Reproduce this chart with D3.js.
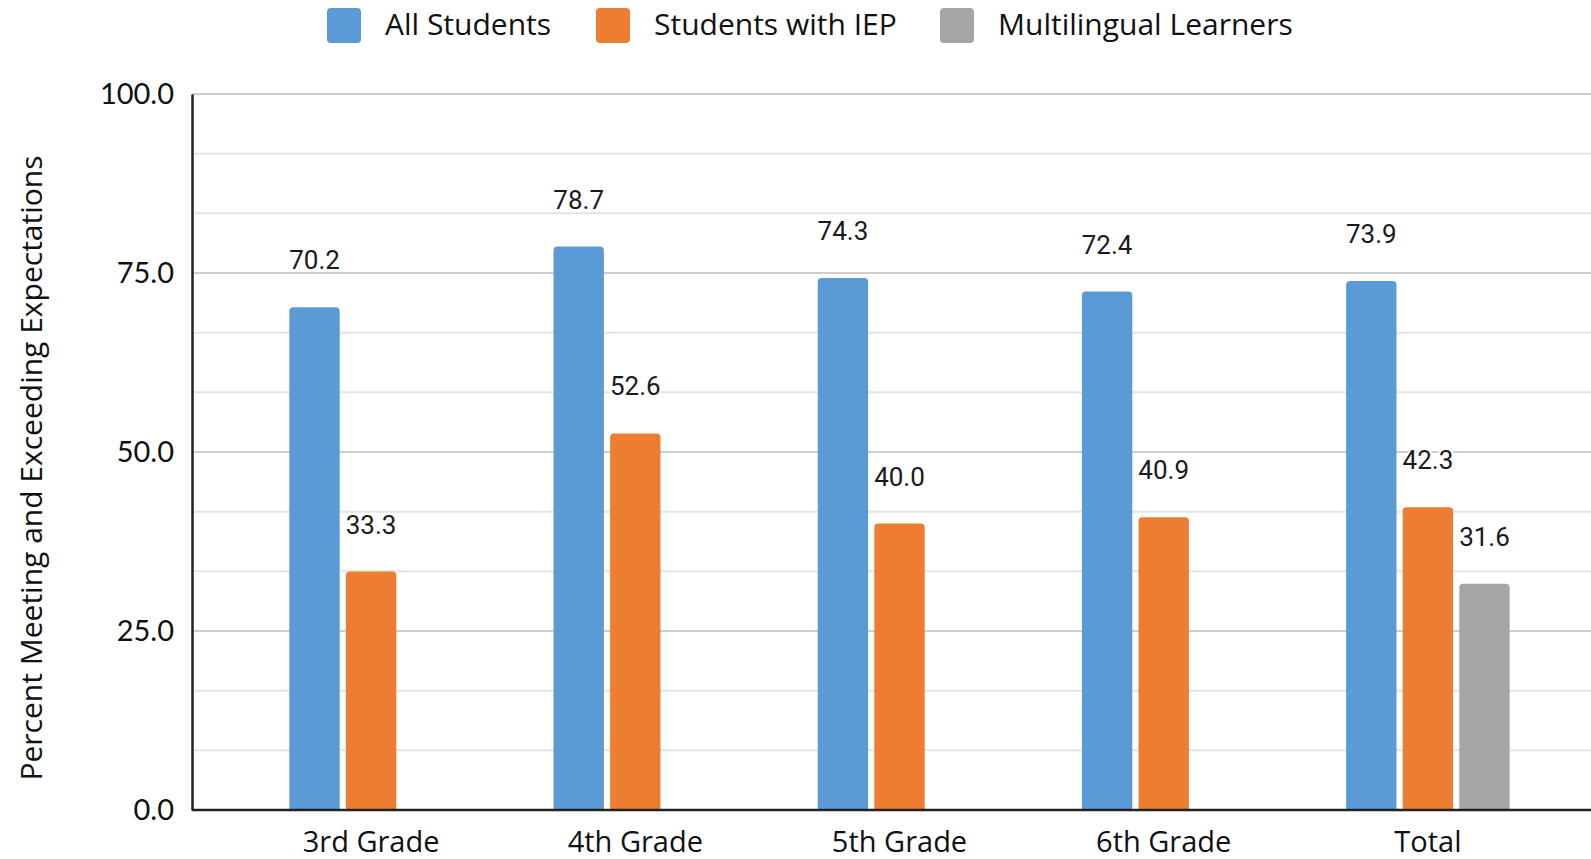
<!DOCTYPE html>
<html>
<head>
<meta charset="utf-8">
<script src="https://cdn.jsdelivr.net/npm/d3@7"></script>
<style>
  html, body { margin: 0; padding: 0; background: #fff; }
  svg { display: block; }
</style>
</head>
<body>
<svg id="chart" width="1591" height="859"></svg>
<script>
// Grade-level results, percent meeting and exceeding expectations
const categories = ["3rd Grade", "4th Grade", "5th Grade", "6th Grade", "Total"];
const seriesNames = ["All Students", "Students with IEP", "Multilingual Learners"];
const allStudents = [70.2, 78.7, 74.3, 72.4, 73.9];
const studentsWithIEP = [33.3, 52.6, 40.0, 40.9, 42.3];
const multilingualLearners = [null, null, null, null, 31.6];
const yTickValues = [0, 25, 50, 75, 100];
const yGridValues = [0, 8.333, 16.667, 25, 33.333, 41.667, 50, 58.333, 66.667, 75, 83.333, 91.667, 100];
const colors = ["#5B9BD5", "#ED7D31", "#A5A5A5"];

const seriesValues = [allStudents, studentsWithIEP, multilingualLearners];

const svg = d3.select("#chart");
const tickFont = "Lato, 'Open Sans', sans-serif";
const textFont = "'Open Sans', Lato, sans-serif";
const labelFont = "Roboto, sans-serif";

const plotLeft = 192, plotRight = 1591, plotTop = 94, plotBottom = 810;

const y = d3.scaleLinear().domain([0, 100]).range([plotBottom, plotTop]);
const x0 = d3.scaleBand().domain(categories).range([239, 1560])
  .paddingInner(0.381).paddingOuter(0.1905);
const x1 = d3.scaleBand().domain(seriesNames).range([0, x0.bandwidth()])
  .paddingInner(0.11).paddingOuter(0);

// Gridlines: lighter minor lines, slightly darker at labelled ticks
svg.append("g").selectAll("line")
  .data(yGridValues)
  .join("line")
  .attr("x1", plotLeft).attr("x2", plotRight)
  .attr("y1", d => y(d)).attr("y2", d => y(d))
  .attr("stroke", d => yTickValues.some(t => Math.abs(t - d) < 0.01) ? "#cfcfcf" : "#e4e4e4")
  .attr("stroke-width", 2);

// Bars with slightly rounded top corners
function topRoundedRect(x, yTop, w, h, r) {
  r = Math.min(r, w / 2, h);
  return `M${x},${yTop + h}V${yTop + r}Q${x},${yTop} ${x + r},${yTop}` +
         `H${x + w - r}Q${x + w},${yTop} ${x + w},${yTop + r}V${yTop + h}Z`;
}

const barData = [];
categories.forEach((c, i) => {
  seriesNames.forEach((s, j) => {
    const v = seriesValues[j][i];
    if (v !== null && v !== undefined) barData.push({ category: c, series: s, value: v, color: colors[j] });
  });
});

svg.append("g").selectAll("path.bar")
  .data(barData)
  .join("path")
  .attr("class", "bar")
  .attr("d", d => {
    const bx = x0(d.category) + x1(d.series);
    return topRoundedRect(bx, y(d.value), x1.bandwidth(), y(0) - y(d.value), 4);
  })
  .attr("fill", d => d.color);

// Value labels above bars
svg.append("g").selectAll("text")
  .data(barData)
  .join("text")
  .attr("x", d => x0(d.category) + x1(d.series) + x1.bandwidth() / 2)
  .attr("y", d => y(d.value) - 38)
  .attr("text-anchor", "middle")
  .attr("font-family", labelFont)
  .attr("font-size", 26)
  .attr("fill", "#1a1a1a")
  .attr("stroke", "#fff")
  .attr("stroke-width", 4)
  .attr("paint-order", "stroke")
  .text(d => d3.format(".1f")(d.value));

// Y axis
const yAxis = svg.append("g")
  .attr("transform", `translate(${plotLeft},0)`)
  .call(d3.axisLeft(y).tickValues(yTickValues).tickFormat(d3.format(".1f")).tickSize(0).tickPadding(18));
yAxis.select(".domain").attr("stroke", "#222").attr("stroke-width", 2.5);
yAxis.selectAll("text")
  .attr("font-family", tickFont)
  .attr("font-size", 29)
  .attr("fill", "#111");

// X axis
const xAxis = svg.append("g")
  .attr("transform", `translate(0,${plotBottom})`)
  .call(d3.axisBottom(x0).tickSize(0).tickPadding(21));
xAxis.select(".domain").attr("d", `M${plotLeft},0H${plotRight}`)
  .attr("stroke", "#222").attr("stroke-width", 2.5);
xAxis.selectAll("text")
  .attr("font-family", textFont)
  .attr("font-size", 29)
  .attr("fill", "#111")
  .attr("dy", "0.71em");

// Y axis title
svg.append("text")
  .attr("transform", `translate(42,${(plotTop + plotBottom) / 2 + 16}) rotate(-90)`)
  .attr("text-anchor", "middle")
  .attr("font-family", textFont)
  .attr("font-size", 30)
  .attr("fill", "#111")
  .text("Percent Meeting and Exceeding Expectations");

// Legend
const legendX = [327, 596, 940];
const legend = svg.append("g");
seriesNames.forEach((s, i) => {
  const g = legend.append("g").attr("transform", `translate(${legendX[i]},8)`);
  g.append("rect").attr("width", 34).attr("height", 35).attr("rx", 4).attr("fill", colors[i]);
  g.append("text")
    .attr("x", 58).attr("y", 27)
    .attr("font-family", textFont)
    .attr("font-size", 30)
    .attr("fill", "#111")
    .text(s);
});
</script>
</body>
</html>
